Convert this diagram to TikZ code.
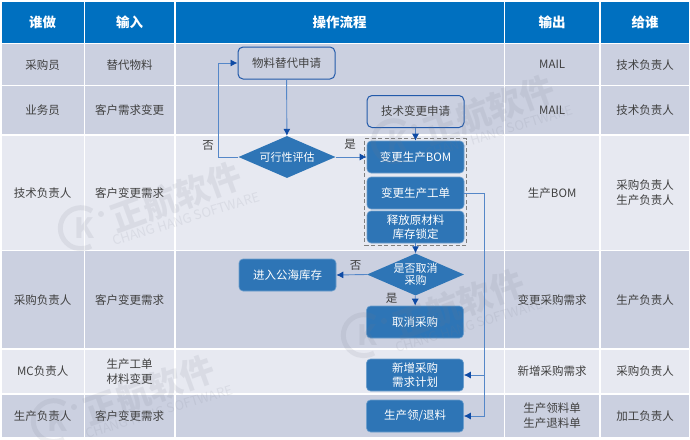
\documentclass[tikz,border=0pt]{standalone}
\usepackage{fontspec}
\setmainfont{Noto Sans CJK SC}
\usepackage{xcolor}
\usetikzlibrary{calc,positioning,fit,shapes.geometric,arrows.meta}
\definecolor{HeadBlue}{RGB}{0,112,192}
\definecolor{RowDark}{RGB}{203,208,224}
\definecolor{RowLight}{RGB}{231,233,241}
\definecolor{StepBlue}{RGB}{46,117,182}
\definecolor{EdgeBlue}{RGB}{35,90,170}
\definecolor{LineBlue}{RGB}{85,135,200}
\definecolor{TipBlue}{RGB}{15,75,165}
\definecolor{TextGrey}{RGB}{64,64,64}
\definecolor{MarkGrey}{RGB}{120,125,140}
\tikzset{
    headcell/.style={fill=HeadBlue, text=white, font=\fontsize{13.5}{15}\selectfont\bfseries, inner sep=0pt, anchor=north west},
    cellbox/.style={inner sep=0pt, anchor=north west, text=TextGrey, align=center, font=\fontsize{11.5}{15}\selectfont},
    darkcell/.style={cellbox, fill=RowDark},
    lightcell/.style={cellbox, fill=RowLight},
    stepbox/.style={rounded corners=4pt, fill=StepBlue, draw=StepBlue!70!white, line width=.6pt, text=white, align=center, font=\fontsize{11.5}{14}\selectfont, minimum width=97pt, minimum height=32pt, inner sep=0pt},
    startbox/.style={rounded corners=5pt, draw=EdgeBlue, line width=1pt, text=TextGrey, align=center, font=\fontsize{11.5}{14}\selectfont, minimum width=97pt, minimum height=32pt, inner sep=0pt},
    choicebox/.style={diamond, aspect=2.3, fill=StepBlue, text=white, align=center, font=\fontsize{11}{12.5}\selectfont, minimum width=97pt, minimum height=42pt, inner sep=0pt},
    flowline/.style={draw=LineBlue, line width=.9pt, -{Latex[length=7pt,width=7pt,color=TipBlue]}},
    flowtag/.style={text=TextGrey, font=\fontsize{11.5}{13}\selectfont, inner sep=0pt},
    markmain/.style={text=MarkGrey, opacity=.12, rotate=20, font=\fontsize{34}{36}\selectfont\bfseries, inner sep=0pt},
    marksub/.style={text=MarkGrey, opacity=.12, rotate=17, font=\fontsize{13}{14}\selectfont, inner sep=0pt},
    marklogo/.style={draw=MarkGrey, opacity=.12, line width=5pt},
}
% faint brand stamp, #1 = name suffix, (#2,#3) = centre of the big text
\newcommand{\brandmark}[3]{
    \node[markmain] (markMain#1) at (#2,#3) {正航软件};
    \node[marksub] (markSub#1) at ($(markMain#1)+(10,22)$) {CHANG HANG SOFTWARE};
    \coordinate (markLogo#1) at ($(markMain#1)+(-95,31)$);
    \draw[marklogo] ($(markLogo#1)+(11,-17)$) arc[start angle=-57, end angle=-300, radius=20.5];
    \node[text=MarkGrey, opacity=.12, font=\fontsize{28}{30}\selectfont\bfseries, inner sep=0pt] (markKay#1) at ($(markLogo#1)+(3,0)$) {K};
    \fill[MarkGrey, opacity=.12] ($(markLogo#1)+(20,-14)$) circle[radius=3];
}
\begin{document}
\begin{tikzpicture}[x=1pt, y=-1pt]
    \useasboundingbox (0,0) rectangle (690,439);
    \fill[white] (0,0) rectangle (690,439);

    % Header row
    \node[headcell, minimum width=82pt, minimum height=41pt] (headWho) at (1.5,1.5) {谁做};
    \node[headcell, minimum width=89pt, minimum height=41pt] (headIn) at (85,1.5) {输入};
    \node[headcell, minimum width=328pt, minimum height=41pt] (headFlow) at (175.5,1.5) {操作流程};
    \node[headcell, minimum width=94pt, minimum height=41pt] (headOut) at (505,1.5) {输出};
    \node[headcell, minimum width=88pt, minimum height=41pt] (headTo) at (601,1.5) {给谁};

    % Row 1
    \node[darkcell, minimum width=82pt, minimum height=41pt] (whoA) at (1.5,44) {采购员};
    \node[darkcell, minimum width=89pt, minimum height=41pt] (inA) at (85,44) {替代物料};
    \node[darkcell, minimum width=328pt, minimum height=41pt] (flowA) at (175.5,44) {};
    \node[darkcell, minimum width=94pt, minimum height=41pt] (outA) at (505,44) {MAIL};
    \node[darkcell, minimum width=88pt, minimum height=41pt] (toA) at (601,44) {技术负责人};

    % Row 2
    \node[darkcell, minimum width=82pt, minimum height=48pt] (whoB) at (1.5,86) {业务员};
    \node[darkcell, minimum width=89pt, minimum height=48pt] (inB) at (85,86) {客户需求变更};
    \node[darkcell, minimum width=328pt, minimum height=48pt] (flowB) at (175.5,86) {};
    \node[darkcell, minimum width=94pt, minimum height=48pt] (outB) at (505,86) {MAIL};
    \node[darkcell, minimum width=88pt, minimum height=48pt] (toB) at (601,86) {技术负责人};

    % Row 3
    \node[lightcell, minimum width=82pt, minimum height=114pt] (whoC) at (1.5,135.5) {技术负责人};
    \node[lightcell, minimum width=89pt, minimum height=114pt] (inC) at (85,135.5) {客户变更需求};
    \node[lightcell, minimum width=328pt, minimum height=114pt] (flowC) at (175.5,135.5) {};
    \node[lightcell, minimum width=94pt, minimum height=114pt] (outC) at (505,135.5) {生产BOM};
    \node[lightcell, minimum width=88pt, minimum height=114pt] (toC) at (601,135.5) {采购负责人\\生产负责人};

    % Row 4
    \node[darkcell, minimum width=82pt, minimum height=97pt] (whoD) at (1.5,251) {采购负责人};
    \node[darkcell, minimum width=89pt, minimum height=97pt] (inD) at (85,251) {客户变更需求};
    \node[darkcell, minimum width=328pt, minimum height=97pt] (flowD) at (175.5,251) {};
    \node[darkcell, minimum width=94pt, minimum height=97pt] (outD) at (505,251) {变更采购需求};
    \node[darkcell, minimum width=88pt, minimum height=97pt] (toD) at (601,251) {生产负责人};

    % Row 5
    \node[lightcell, minimum width=82pt, minimum height=43pt] (whoE) at (1.5,349.5) {MC负责人};
    \node[lightcell, minimum width=89pt, minimum height=43pt] (inE) at (85,349.5) {生产工单\\材料变更};
    \node[lightcell, minimum width=328pt, minimum height=43pt] (flowE) at (175.5,349.5) {};
    \node[lightcell, minimum width=94pt, minimum height=43pt] (outE) at (505,349.5) {新增采购需求};
    \node[lightcell, minimum width=88pt, minimum height=43pt] (toE) at (601,349.5) {采购负责人};

    % Row 6
    \node[darkcell, minimum width=82pt, minimum height=42pt] (whoF) at (1.5,394.5) {生产负责人};
    \node[darkcell, minimum width=89pt, minimum height=42pt] (inF) at (85,394.5) {客户变更需求};
    \node[darkcell, minimum width=328pt, minimum height=42pt] (flowF) at (175.5,394.5) {};
    \node[darkcell, minimum width=94pt, minimum height=42pt] (outF) at (505,394.5) {生产领料单\\生产退料单};
    \node[darkcell, minimum width=88pt, minimum height=42pt] (toF) at (601,394.5) {加工负责人};

    % Flow steps
    \node[startbox] (applySub) at (286.5,63) {物料替代申请};
    \node[startbox] (applyTech) at (415.5,111.5) {技术变更申请};
    \node[choicebox] (evalDia) at (287,157) {可行性评估};
    \node[stepbox] (changeBom) at (415.5,157) {变更生产BOM};
    \node[stepbox] (changeOrder) at (415.5,193) {变更生产工单};
    \node[stepbox] (releaseLock) at (415.5,227) {释放原材料\\库存锁定};
    \node[draw=gray, dash pattern=on 4pt off 2.5pt, line width=1pt, inner sep=2pt, fit=(changeBom)(releaseLock)] (dashBox) {};
    \node[choicebox] (cancelDia) at (415.5,274.5) {是否取消\\采购};
    \node[stepbox] (poolStock) at (287.5,275) {进入公海库存};
    \node[stepbox] (cancelBuy) at (415,322) {取消采购};
    \node[stepbox] (addPlan) at (415,375) {新增采购\\需求计划};
    \node[stepbox] (pickBack) at (415,416) {生产领/退料};

    % Connectors
    \coordinate (backTurn) at (218,157);
    \coordinate (backTop) at (218,63);
    \coordinate (orderTurn) at (484,193);
    \coordinate (planTurn) at (484,375);
    \coordinate (pickTurn) at (484,416);
    \draw[flowline] (applySub) -- (evalDia);
    \draw[flowline] (evalDia.west) -- (backTurn) -- (backTop) -- (applySub.west);
    \draw[flowline] (evalDia.east) -- (changeBom.west);
    \draw[flowline] (applyTech) -- (changeBom);
    \draw[flowline] (releaseLock) -- (cancelDia);
    \draw[flowline] (cancelDia.west) -- (poolStock.east);
    \draw[flowline] (cancelDia) -- (cancelBuy);
    \draw[flowline] (changeOrder.east) -- (orderTurn) -- (pickTurn) -- (pickBack.east);
    \draw[flowline] (planTurn) -- (addPlan.east);

    % Branch tags
    \node[flowtag] (noA) at (208,145) {否};
    \node[flowtag] (yesA) at (350,144) {是};
    \node[flowtag] (noB) at (355.5,265) {否};
    \node[flowtag] (yesB) at (391.5,298) {是};

    % Brand stamps
    \brandmark{A}{176}{197}
    \brandmark{B}{459}{304}
    \brandmark{C}{149}{390}
    \brandmark{D}{489}{110}
\end{tikzpicture}
\end{document}
